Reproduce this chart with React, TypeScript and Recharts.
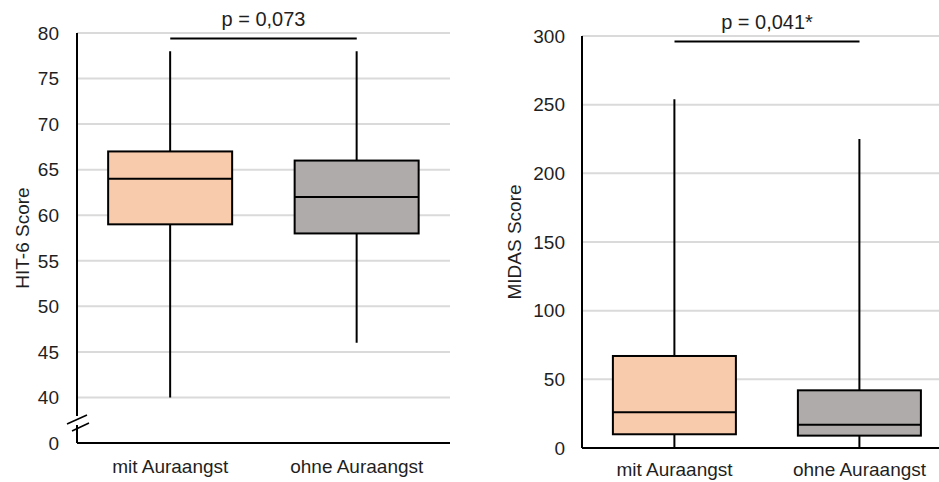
import React from 'react';
import { ComposedChart, Bar, XAxis, YAxis, CartesianGrid, ReferenceLine } from 'recharts';

// ---- data ----
const categories = ['mit Auraangst', 'ohne Auraangst'];
const boxColors = ['#F8CBAD', '#AFABAB'];

const hit6Min = [40, 46];
const hit6Q1 = [59, 58];
const hit6Median = [64, 62];
const hit6Q3 = [67, 66];
const hit6Max = [78, 78];
const hit6Ticks = [35, 40, 45, 50, 55, 60, 65, 70, 75, 80];
const hit6BreakTick = 35; // shown as "0" below the axis break
const hit6PValue = 'p = 0,073';
const hit6BracketY = 79.4;

const midasMin = [0, 0];
const midasQ1 = [10, 9];
const midasMedian = [26, 17];
const midasQ3 = [67, 42];
const midasMax = [254, 225];
const midasTicks = [0, 50, 100, 150, 200, 250, 300];
const midasPValue = 'p = 0,041*';
const midasBracketY = 296;

const FONT = '"Liberation Sans", Arial, sans-serif';
const TEXT = '#1f1f1f';
const FS = 19;

function buildRows(mins: number[], q1s: number[], meds: number[], q3s: number[], maxs: number[]) {
  return categories.map((name, i) => ({
    name,
    range: [mins[i], maxs[i]],
    min: mins[i],
    q1: q1s[i],
    median: meds[i],
    q3: q3s[i],
    max: maxs[i],
    color: boxColors[i],
  }));
}

const hit6Rows = buildRows(hit6Min, hit6Q1, hit6Median, hit6Q3, hit6Max);
const midasRows = buildRows(midasMin, midasQ1, midasMedian, midasQ3, midasMax);

const BoxShape = (props: any) => {
  const { x, y, width, height, payload } = props;
  if (x == null || y == null) return null;
  const top = Math.min(y, y + height);
  const bottom = Math.max(y, y + height);
  const { min, q1, median, q3, max, color } = payload;
  const toY = (v: number) => bottom - ((v - min) / (max - min)) * (bottom - top);
  const cx = x + width / 2;
  return (
    <g>
      <line x1={cx} x2={cx} y1={toY(max)} y2={toY(min)} stroke="#000" strokeWidth={2} />
      <rect x={x} y={toY(q3)} width={width} height={toY(q1) - toY(q3)} fill={color} stroke="#000" strokeWidth={2} />
      <line x1={x} x2={x + width} y1={toY(median)} y2={toY(median)} stroke="#000" strokeWidth={2} />
    </g>
  );
};

const makeYTick = (margin: number, breakValue: number | null) => (props: any) => {
  const { x, y, payload } = props;
  const isBreak = breakValue !== null && payload.value === breakValue;
  const label = isBreak ? '0' : String(payload.value);
  const ax = x + margin;
  return (
    <g>
      <text x={x} y={y} dy="0.355em" textAnchor="end" fill={TEXT} fontSize={FS} fontFamily={FONT}>
        {label}
      </text>
      {isBreak && (
        <g>
          <rect x={ax - 3} y={y - 27} width={6} height={9} fill="#fff" />
          <line x1={ax - 10} y1={y - 19} x2={ax + 10} y2={y - 28} stroke="#000" strokeWidth={1.6} />
          <line x1={ax - 5} y1={y - 12} x2={ax + 12} y2={y - 20} stroke="#000" strokeWidth={1.6} />
        </g>
      )}
    </g>
  );
};

const makeYLabel = (dx: number, text: string) => (props: any) => {
  const { viewBox } = props;
  const cx = viewBox.x + dx;
  const cy = viewBox.y + viewBox.height / 2;
  return (
    <text
      x={cx}
      y={cy}
      transform={`rotate(-90 ${cx} ${cy})`}
      textAnchor="middle"
      dy="0.355em"
      fill={TEXT}
      fontSize={FS}
      fontFamily={FONT}
    >
      {text}
    </text>
  );
};

const axisLine = { stroke: '#000', strokeWidth: 2 };

export default function App() {
  return (
    <div
      style={{
        position: 'absolute',
        left: 0,
        top: 0,
        width: 939,
        height: 482,
        overflow: 'hidden',
        background: '#fff',
      }}
    >
      <div style={{ position: 'absolute', left: 0, top: 0 }}>
        <ComposedChart
          width={470}
          height={482}
          data={hit6Rows}
          margin={{ top: 33, right: 20, bottom: 9, left: 0 }}
          barCategoryGap="16.7%"
        >
          <CartesianGrid vertical={false} stroke="#DADADA" strokeWidth={2} />
          <XAxis
            dataKey="name"
            type="category"
            height={30}
            tickLine={false}
            tickSize={0}
            tickMargin={17}
            axisLine={axisLine}
            tick={{ fill: TEXT, fontSize: FS, fontFamily: FONT }}
          />
          <YAxis
            type="number"
            domain={[35, 80]}
            ticks={hit6Ticks}
            interval={0}
            width={77}
            tickLine={false}
            tickSize={0}
            tickMargin={18}
            axisLine={axisLine}
            tick={makeYTick(18, hit6BreakTick)}
            label={{ content: makeYLabel(22, 'HIT-6 Score') }}
          />
          <Bar dataKey="range" isAnimationActive={false} shape={BoxShape} />
          <ReferenceLine
            segment={[
              { x: categories[0], y: hit6BracketY },
              { x: categories[1], y: hit6BracketY },
            ]}
            stroke="#000"
            strokeWidth={2}
            label={{ value: hit6PValue, position: 'top', offset: 12, fill: TEXT, fontSize: 20, fontFamily: FONT }}
          />
        </ComposedChart>
      </div>
      <div style={{ position: 'absolute', left: 470, top: 0 }}>
        <ComposedChart
          width={482}
          height={482}
          data={midasRows}
          margin={{ top: 36, right: 0, bottom: 4, left: 0 }}
          barCategoryGap="16.7%"
        >
          <CartesianGrid vertical={false} stroke="#DADADA" strokeWidth={2} />
          <XAxis
            dataKey="name"
            type="category"
            height={30}
            tickLine={false}
            tickSize={0}
            tickMargin={15}
            axisLine={axisLine}
            tick={{ fill: TEXT, fontSize: FS, fontFamily: FONT }}
          />
          <YAxis
            type="number"
            domain={[0, 300]}
            ticks={midasTicks}
            interval={0}
            width={112}
            tickLine={false}
            tickSize={0}
            tickMargin={17}
            axisLine={axisLine}
            tick={makeYTick(17, null)}
            label={{ content: makeYLabel(44, 'MIDAS Score') }}
          />
          <Bar dataKey="range" isAnimationActive={false} shape={BoxShape} />
          <ReferenceLine
            segment={[
              { x: categories[0], y: midasBracketY },
              { x: categories[1], y: midasBracketY },
            ]}
            stroke="#000"
            strokeWidth={2}
            label={{ value: midasPValue, position: 'top', offset: 12, fill: TEXT, fontSize: 20, fontFamily: FONT }}
          />
        </ComposedChart>
      </div>
    </div>
  );
}
